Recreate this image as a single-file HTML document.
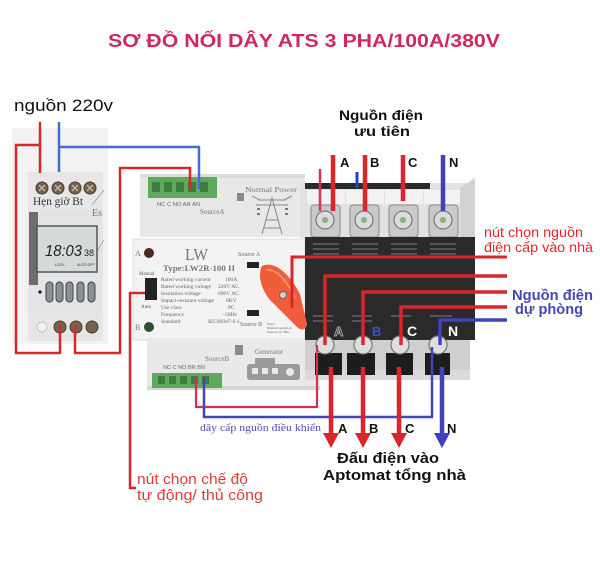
<!DOCTYPE html>
<html><head><meta charset="utf-8"><style>
html,body{margin:0;padding:0;background:#fff;}
svg{display:block;}
text{font-family:"Liberation Sans","DejaVu Sans",sans-serif;}
.sf{font-family:"Liberation Serif","DejaVu Serif",serif;}
</style></head><body>
<svg width="600" height="573" viewBox="0 0 600 573" xmlns="http://www.w3.org/2000/svg">
<rect width="600" height="573" fill="#fff"/>

<!-- Title -->
<text x="108" y="47" font-size="18" font-weight="bold" fill="#d0285a" textLength="392" lengthAdjust="spacingAndGlyphs">SƠ ĐỒ NỐI DÂY ATS 3 PHA/100A/380V</text>

<!-- nguồn 220v -->
<text x="14" y="111" font-size="17" fill="#111" textLength="99" lengthAdjust="spacingAndGlyphs">nguồn 220v</text>

<!-- Timer photo background -->
<rect x="12" y="128" width="96" height="216" fill="#f2f2f2"/>
<!-- Timer device -->
<rect x="28" y="172" width="75" height="40" fill="#e7e7e8"/>
<g fill="#75644d" stroke="#4a3c2c" stroke-width="1">
<circle cx="42" cy="188" r="6"/><circle cx="58" cy="188" r="6"/><circle cx="75" cy="188" r="6"/><circle cx="90" cy="188" r="6"/>
</g>
<g stroke="#d8cfc0" stroke-width="1"><path d="M39 185l6 6M45 185l-6 6M55 185l6 6M61 185l-6 6M72 185l6 6M78 185l-6 6M87 185l6 6M93 185l-6 6"/></g>
<text x="33" y="205" class="sf" font-size="12" fill="#333" textLength="50" lengthAdjust="spacingAndGlyphs">Hẹn giờ Bt</text>
<rect x="28" y="211" width="75" height="106" fill="#e3e4e6"/>
<text x="92" y="216" class="sf" font-size="10" fill="#777">Es</text>
<path d="M92 205 L104 190 M92 262 Q98 248 104 240" stroke="#9aa" stroke-width="1" fill="none"/>
<rect x="29" y="212" width="9" height="73" fill="#6d6d6d"/>
<rect x="37" y="226" width="60" height="46" fill="#d6d9d9" stroke="#555" stroke-width="1.5"/>
<text x="45" y="256" font-size="16" font-style="italic" fill="#222" textLength="37" lengthAdjust="spacingAndGlyphs">18:03</text>
<text x="84" y="256" font-size="9" fill="#222">38</text>
<text x="55" y="266" font-size="3.5" fill="#333">LOCK</text>
<text x="77" y="266" font-size="3.5" fill="#333">AUTO  OFF</text>
<circle cx="40" cy="292" r="1.6" fill="#111"/>
<g fill="#8b9096" stroke="#444" stroke-width="1">
<rect x="46" y="282" width="7" height="20" rx="3.5"/><rect x="56" y="282" width="7" height="20" rx="3.5"/><rect x="66" y="282" width="7" height="20" rx="3.5"/><rect x="77" y="282" width="7" height="20" rx="3.5"/><rect x="88" y="282" width="7" height="20" rx="3.5"/>
</g>
<rect x="28" y="314" width="75" height="27" fill="#e6e6e7"/>
<circle cx="42" cy="327" r="5" fill="#f1f1f1" stroke="#c8c8c8"/>
<g fill="#75644d" stroke="#4a3c2c" stroke-width="1">
<circle cx="60" cy="327" r="6"/><circle cx="76" cy="327" r="6"/><circle cx="92" cy="327" r="6"/>
</g>

<!-- ATS top module (Source A) -->
<rect x="140" y="174" width="165" height="63" fill="#e8e8e9"/>
<rect x="140" y="174" width="165" height="4" fill="#dcdcdc"/>
<rect x="148" y="177" width="69" height="21" fill="#5ea95c"/>
<g fill="#3f7d3e"><rect x="152" y="182" width="8" height="10"/><rect x="164" y="182" width="8" height="10"/><rect x="176" y="182" width="8" height="10"/><rect x="188" y="182" width="8" height="10"/><rect x="200" y="182" width="8" height="10"/></g>
<text x="157" y="206" font-size="5.5" fill="#666" textLength="43" lengthAdjust="spacingAndGlyphs">NC C NO AR AN</text>
<text x="200" y="214" class="sf" font-size="7" fill="#777">SourceA</text>
<rect x="237" y="193" width="7" height="8" fill="#8a8a8a"/>
<text x="245" y="192" class="sf" font-size="7" fill="#777" textLength="52" lengthAdjust="spacingAndGlyphs">Normal Power</text>
<g stroke="#888" stroke-width="1" fill="none">
<path d="M262 234 L272 198 L282 234 M266 220 L278 220 M264 228 L280 228 M258 200 L286 200 M256 205 L288 205 M260 200 L252 196 M284 200 L292 196"/>
</g>
<g fill="#777"><rect x="257" y="208" width="3" height="2"/><rect x="257" y="213" width="3" height="2"/><rect x="285" y="208" width="3" height="2"/><rect x="285" y="213" width="3" height="2"/></g>

<!-- ATS middle module -->
<rect x="133" y="239" width="172" height="101" fill="#f3f3f3" stroke="#dedede"/>
<text x="135" y="256" class="sf" font-size="8" fill="#777">A</text>
<circle cx="149" cy="253" r="5" fill="#4c2a22"/>
<text x="135" y="330" class="sf" font-size="8" fill="#777">B</text>
<circle cx="149" cy="327" r="5" fill="#2e4e36"/>
<text x="185" y="260" class="sf" font-size="17" fill="#777" textLength="23" lengthAdjust="spacingAndGlyphs">LW</text>
<text x="163" y="271" class="sf" font-size="8" font-weight="bold" fill="#777" textLength="72" lengthAdjust="spacingAndGlyphs">Type:LW2R-100 II</text>
<g class="sf" font-size="5.5" fill="#666">
<text x="161" y="281" class="sf">Rated working current</text>
<text x="161" y="288" class="sf">Rated working voltage</text>
<text x="161" y="295" class="sf">Insulation voltage</text>
<text x="161" y="302" class="sf">Impact-resistant voltage</text>
<text x="161" y="309" class="sf">Use class</text>
<text x="161" y="316" class="sf">Frequency</text>
<text x="161" y="323" class="sf">Standard</text>
<text x="225" y="281" class="sf">100A</text>
<text x="218" y="288" class="sf">220V AC</text>
<text x="218" y="295" class="sf">690V AC</text>
<text x="226" y="302" class="sf">8KV</text>
<text x="228" y="309" class="sf">PC</text>
<text x="222" y="316" class="sf">~50Hz</text>
<text x="208" y="323" class="sf">IEC60947-6-1</text>
</g>
<text x="139" y="275" class="sf" font-size="5" fill="#555">Manual</text>
<rect x="145" y="278" width="12" height="22" fill="#222"/>
<text x="141" y="308" class="sf" font-size="5" fill="#555">Auto</text>
<text x="238" y="256" class="sf" font-size="6" fill="#666">Source A</text>
<rect x="247" y="262" width="12" height="6" fill="#222"/>
<text x="240" y="326" class="sf" font-size="6" fill="#666">Source B</text>
<rect x="247" y="310" width="12" height="6" fill="#222"/>
<g class="sf" font-size="3.5" fill="#666"><text x="267" y="325" class="sf">Note:</text><text x="267" y="329" class="sf">Manual operation</text><text x="267" y="333" class="sf">must be in "Ma-</text></g>

<!-- ATS bottom module (Source B) -->
<rect x="147" y="338" width="173" height="52" fill="#e9e9e9"/>
<rect x="147" y="386" width="173" height="4" fill="#d6d6d6"/>
<rect x="235" y="345" width="8" height="10" fill="#8a8a8a"/>
<text x="255" y="354" class="sf" font-size="7" fill="#777">Generator</text>
<text x="205" y="361" class="sf" font-size="7" fill="#777">SourceB</text>
<text x="163" y="369" font-size="5.5" fill="#666" textLength="42" lengthAdjust="spacingAndGlyphs">NC C NO BR BN</text>
<rect x="152" y="373" width="70" height="15" fill="#5ea95c"/>
<g fill="#3f7d3e"><rect x="158" y="376" width="7" height="8"/><rect x="169" y="376" width="7" height="8"/><rect x="180" y="376" width="7" height="8"/><rect x="191" y="376" width="7" height="8"/><rect x="202" y="376" width="7" height="8"/></g>
<g fill="#9a9a9a"><rect x="247" y="364" width="53" height="16" rx="3"/><rect x="255" y="358" width="20" height="6"/></g>
<g fill="#e9e9e9"><rect x="252" y="368" width="6" height="6"/><rect x="262" y="368" width="6" height="6"/><rect x="272" y="368" width="6" height="6"/><circle cx="290" cy="372" r="4"/></g>

<!-- Breaker head top -->
<rect x="300" y="183" width="175" height="55" fill="#e2e2e2"/>
<rect x="305" y="183" width="125" height="6" fill="#2a2a2a"/>
<path d="M460 188 L475 178 L475 238 L460 238 Z" fill="#d2d2d2"/>
<g fill="#f2f2f2"><rect x="307" y="190" width="38" height="14"/><rect x="346" y="190" width="38" height="14"/><rect x="385" y="190" width="38" height="14"/><rect x="424" y="190" width="36" height="14"/></g>
<g fill="#c9c9c9" stroke="#8a8a8a" stroke-width="1">
<rect x="311" y="205" width="29" height="32" rx="3"/><rect x="350" y="205" width="29" height="32" rx="3"/><rect x="389" y="205" width="29" height="32" rx="3"/><rect x="429" y="205" width="29" height="32" rx="3"/>
</g>
<g fill="#dcdcdc" stroke="#777" stroke-width="1.2">
<circle cx="325" cy="220" r="9"/><circle cx="364" cy="220" r="9"/><circle cx="403" cy="220" r="9"/><circle cx="443" cy="220" r="9"/>
</g>
<g fill="#8fae8a"><circle cx="325" cy="220" r="3"/><circle cx="364" cy="220" r="3"/><circle cx="403" cy="220" r="3"/><circle cx="443" cy="220" r="3"/></g>

<!-- Black body -->
<rect x="305" y="237" width="170" height="103" fill="#2a2a2a"/>
<g fill="#555">
<rect x="313" y="243" width="26" height="2"/><rect x="313" y="248" width="26" height="2"/><rect x="313" y="253" width="26" height="2"/>
<rect x="352" y="243" width="26" height="2"/><rect x="352" y="248" width="26" height="2"/><rect x="352" y="253" width="26" height="2"/>
<rect x="391" y="243" width="26" height="2"/><rect x="391" y="248" width="26" height="2"/><rect x="391" y="253" width="26" height="2"/>
<rect x="430" y="243" width="26" height="2"/><rect x="430" y="248" width="26" height="2"/><rect x="430" y="253" width="26" height="2"/>
<rect x="313" y="315" width="20" height="2"/><rect x="313" y="320" width="20" height="2"/>
<rect x="352" y="315" width="20" height="2"/><rect x="352" y="320" width="20" height="2"/>
<rect x="391" y="315" width="20" height="2"/><rect x="430" y="315" width="22" height="2"/>
</g>
<text x="334" y="336" font-size="13" font-weight="bold" fill="#2a2a2a" stroke="#bbb" stroke-width="0.8">A</text>
<text x="372" y="336" font-size="13" font-weight="bold" fill="#3a4fd0">B</text>
<text x="407" y="336" font-size="14" font-weight="bold" fill="#fff">C</text>
<text x="448" y="336" font-size="14" font-weight="bold" fill="#fff">N</text>

<!-- Lower grey part -->
<rect x="305" y="340" width="165" height="40" fill="#cfcfcf"/>
<rect x="305" y="370" width="165" height="10" fill="#dadada"/>
<g fill="#1d1d1d">
<rect x="315" y="353" width="27" height="22"/><rect x="347" y="353" width="28" height="22"/><rect x="386" y="353" width="27" height="22"/><rect x="425" y="353" width="25" height="22"/>
</g>
<g fill="#dedede" stroke="#777" stroke-width="1.2">
<circle cx="325" cy="345" r="9"/><circle cx="363" cy="345" r="9"/><circle cx="400" cy="345" r="9"/><circle cx="438" cy="345" r="9"/>
</g>

<!-- Orange handle -->
<path d="M262 266 C274 260 290 274 300 294 L307 324 C306 331 300 331 296 326 L271 301 C262 291 257 276 262 266 Z" fill="#ef5d3a"/>
<path d="M266 270 C276 268 288 282 295 298" stroke="#f58a63" stroke-width="2" fill="none"/>
<circle cx="283" cy="295" r="3.5" fill="#d8cfc4" stroke="#666" stroke-width="1"/>

<!-- Timer wires -->
<g fill="none" stroke="#d9252b" stroke-width="2.5" stroke-linejoin="miter">
<polyline points="40,122 40,173"/>
<polyline points="40,145 16,145 16,353 60,353 60,326"/>
<polyline points="75,326 75,353 120,353 120,168 190,168 190,189"/>
<polyline points="145,293 130,293 130,488 136,488"/>
</g>
<g fill="none" stroke="#3f6fd0" stroke-width="2.5">
<polyline points="59,122 59,172"/>
<polyline points="59,147 199,147 199,189"/>
</g>

<!-- Control loop wires -->
<polyline points="196,377 196,407 317,407 317,345" fill="none" stroke="#d8304a" stroke-width="2.2"/>
<polyline points="204,377 204,417 432,417 432,347" fill="none" stroke="#4444bb" stroke-width="2.5"/>

<!-- Top source wires -->
<g stroke="#d9252b" stroke-width="4.5">
<line x1="333" y1="155" x2="333" y2="211"/>
<line x1="365" y1="155" x2="365" y2="211"/>
<line x1="403" y1="155" x2="403" y2="201"/>
</g>
<line x1="320" y1="169" x2="320" y2="211" stroke="#d8334a" stroke-width="2.5"/>
<line x1="357" y1="172" x2="357" y2="188" stroke="#2a3fd0" stroke-width="3"/>
<line x1="443" y1="155" x2="443" y2="211" stroke="#4040b8" stroke-width="4.5"/>
<g font-size="13" font-weight="bold" fill="#111">
<text x="340" y="167">A</text><text x="370" y="167">B</text><text x="408" y="167">C</text><text x="449" y="167">N</text>
</g>
<text x="381" y="120" font-size="14" font-weight="bold" fill="#111" text-anchor="middle" textLength="84" lengthAdjust="spacingAndGlyphs">Nguồn điện</text>
<text x="382" y="136" font-size="14" font-weight="bold" fill="#111" text-anchor="middle" textLength="56" lengthAdjust="spacingAndGlyphs">ưu tiên</text>

<!-- Selector pointer -->
<polyline points="292,308 292,257 507,257" fill="none" stroke="#d9252b" stroke-width="3"/>
<!-- Backup source wires -->
<g fill="none" stroke="#d9252b" stroke-width="3.5">
<polyline points="325,345 325,276 507,276"/>
<polyline points="363,345 363,292 507,292"/>
<polyline points="401,345 401,307 507,307"/>
</g>
<polyline points="440,345 440,320 507,320" fill="none" stroke="#4040c0" stroke-width="3.5"/>

<!-- Output wires & arrows -->
<g stroke="#d9252b" stroke-width="4.5">
<line x1="331" y1="367" x2="331" y2="434"/>
<line x1="363" y1="367" x2="363" y2="434"/>
<line x1="399" y1="367" x2="399" y2="434"/>
</g>
<g fill="#d9252b">
<polygon points="323,433 339,433 331,448"/>
<polygon points="355,433 371,433 363,448"/>
<polygon points="391,433 407,433 399,448"/>
</g>
<line x1="442" y1="367" x2="442" y2="434" stroke="#4040c0" stroke-width="4.5"/>
<polygon points="434,433 450,433 442,448" fill="#4040c0"/>
<g font-size="13" font-weight="bold" fill="#111">
<text x="338" y="433">A</text><text x="369" y="433">B</text><text x="405" y="433">C</text><text x="447" y="433">N</text>
</g>
<text x="200" y="431" class="sf" font-size="10" fill="#5050a8" textLength="121" lengthAdjust="spacingAndGlyphs">dây cấp nguồn điều khiển</text>

<!-- Right labels -->
<text x="484" y="237" font-size="13.5" fill="#e0262c" textLength="99" lengthAdjust="spacingAndGlyphs">nút chọn nguồn</text>
<text x="484" y="252" font-size="13.5" fill="#e0262c" textLength="109" lengthAdjust="spacingAndGlyphs">điện cấp vào nhà</text>
<text x="512" y="300" font-size="14.5" font-weight="bold" fill="#4646b4" textLength="81" lengthAdjust="spacingAndGlyphs">Nguồn điện</text>
<text x="515" y="314" font-size="14.5" font-weight="bold" fill="#4646b4" textLength="68" lengthAdjust="spacingAndGlyphs">dự phòng</text>

<!-- Bottom labels -->
<text x="337" y="463" font-size="15" font-weight="bold" fill="#111" textLength="102" lengthAdjust="spacingAndGlyphs">Đấu điện vào</text>
<text x="323" y="480" font-size="15" font-weight="bold" fill="#111" textLength="143" lengthAdjust="spacingAndGlyphs">Aptomat tổng nhà</text>
<text x="137" y="484" font-size="15" fill="#e03a3a" textLength="111" lengthAdjust="spacingAndGlyphs">nút chọn chế độ</text>
<text x="137" y="500" font-size="15" fill="#e03a3a" textLength="126" lengthAdjust="spacingAndGlyphs">tự động/ thủ công</text>
</svg>
</body></html>
